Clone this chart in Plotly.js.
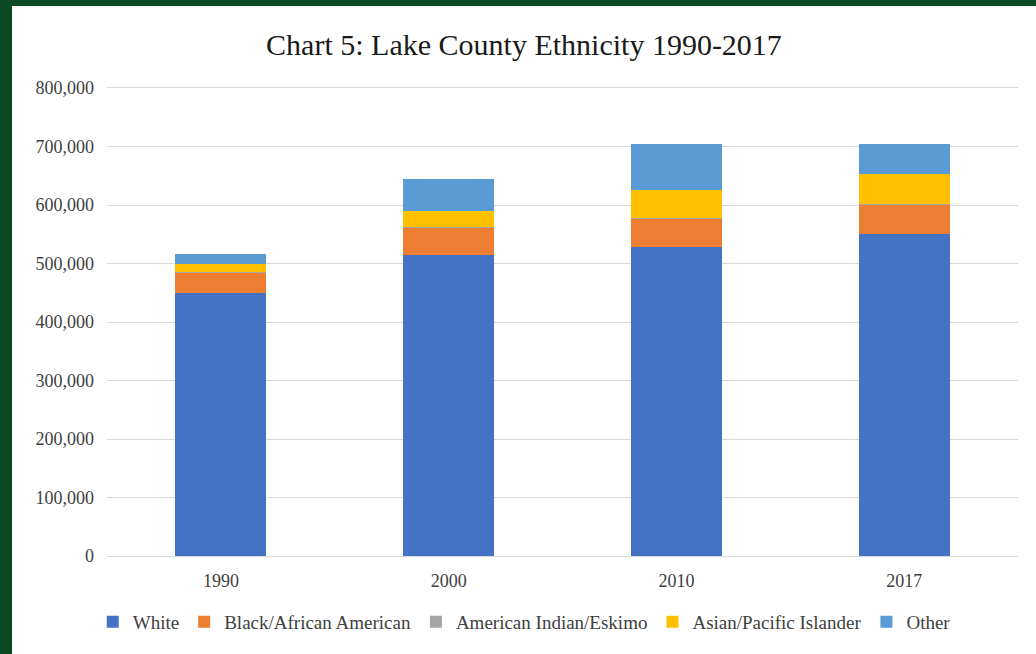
<!DOCTYPE html>
<html>
<head>
<meta charset="utf-8">
<script src="https://cdn.plot.ly/plotly-3.0.1.min.js"></script>
<style>
html,body{margin:0;padding:0;background:#0b4a23;width:1036px;height:654px;overflow:hidden;}
#chart{position:absolute;left:12px;top:6px;width:1024px;height:648px;background:#fff;}
</style>
</head>
<body>
<div id="chart"></div>
<script>
var years = ["1990", "2000", "2010", "2017"];
var white = [450000, 514500, 529000, 551000];
var black = [34000, 46000, 47000, 49500];
var amIndian = [1200, 1500, 1800, 2000];
var asian = [14500, 27000, 47800, 50500];
var other = [17000, 55000, 78000, 51000];

var names = ["White", "Black/African American", "American Indian/Eskimo", "Asian/Pacific Islander", "Other"];
var series = [white, black, amIndian, asian, other];
var colors = ["#4472c4", "#ed7d31", "#a5a5a5", "#ffc000", "#5b9bd5"];

var traces = series.map(function(s, i){
  return {
    type: "bar",
    name: names[i],
    x: years,
    y: s,
    marker: {color: colors[i], line: {width: 0}},
    hoverinfo: "x+y+name"
  };
});

var font = "'Liberation Serif', 'DejaVu Serif', serif";
var layout = {
  barmode: "stack",
  bargap: 0.6,
  width: 1024,
  height: 648,
  margin: {l: 95, r: 18, t: 82, b: 98},
  paper_bgcolor: "#ffffff",
  plot_bgcolor: "#ffffff",
  font: {family: font, color: "#404040", size: 18},
  title: {text: "Chart 5: Lake County Ethnicity 1990-2017", font: {family: font, size: 30, color: "#1a1a1a"}, x: 0.5, xanchor: "center", y: 0.94, yanchor: "middle"},
  xaxis: {
    type: "category",
    tickfont: {family: font, size: 18, color: "#404040"},
    showline: true, linecolor: "#d9d9d9", linewidth: 1, mirror: true,
    ticks: "", showgrid: false,
    ticklabelstandoff: 8
  },
  yaxis: {
    range: [0, 800000],
    dtick: 100000,
    tickformat: ",",
    tickfont: {family: font, size: 18, color: "#404040"},
    showgrid: true, gridcolor: "#d9d9d9", gridwidth: 1,
    zeroline: false, showline: false, ticks: "",
    ticklabelstandoff: 12
  },
  legend: {
    orientation: "h",
    x: 0.458, xanchor: "center",
    y: -0.1, yanchor: "top",
    font: {family: font, size: 19, color: "#404040"},
    traceorder: "normal",
    itemwidth: 20,
    tracegroupgap: 0
  },
  showlegend: true
};

Plotly.newPlot("chart", traces, layout, {displayModeBar: false, staticPlot: true});
</script>
</body>
</html>
